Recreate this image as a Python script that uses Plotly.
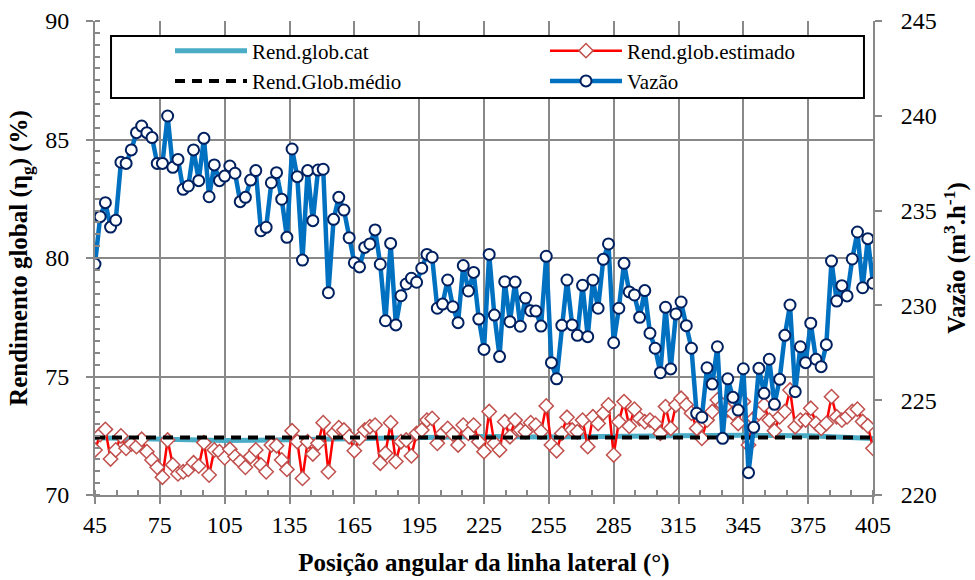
import plotly.graph_objects as go

# Angular positions of the lateral line (degrees), one reading every 2.4 degrees
angle_start = 45.0
angle_step = 2.4

# Flow rate readings (m3/h)
vazao = [
    232.18, 234.68, 235.42, 234.13, 234.49, 237.55, 237.49, 238.20, 239.11, 239.46,
    239.11, 238.85, 237.49, 237.49, 239.99, 237.28, 237.70, 236.12, 236.30, 238.20,
    236.58, 238.81, 235.73, 237.41, 236.58, 236.82, 237.35, 236.97, 235.47, 235.70,
    236.61, 237.11, 233.94, 234.12, 236.47, 237.00, 235.60, 233.59, 238.25, 236.79,
    232.39, 237.11, 234.47, 237.14, 237.18, 230.67, 234.54, 235.70, 235.03, 233.57,
    232.25, 232.03, 233.06, 233.24, 233.98, 232.17, 229.19, 233.27, 228.97, 230.51,
    231.13, 231.43, 231.22, 231.96, 232.69, 232.54, 229.85, 230.07, 231.34, 229.93,
    229.09, 232.10, 230.76, 231.74, 229.28, 227.68, 232.69, 229.49, 227.30, 231.25,
    229.14, 231.23, 228.90, 230.39, 229.72, 229.70, 228.91, 232.59, 226.98, 226.13,
    228.95, 231.34, 228.97, 228.42, 231.06, 228.35, 231.34, 229.85, 232.43, 233.24,
    228.03, 229.85, 232.22, 230.71, 230.55, 229.37, 230.78, 228.53, 227.74, 226.45,
    229.90, 226.65, 229.55, 230.18, 228.93, 227.74, 224.31, 224.10, 226.71, 225.85,
    227.82, 222.99, 226.13, 225.15, 224.48, 226.66, 221.18, 223.57, 226.68, 225.36,
    227.16, 224.78, 226.10, 228.42, 230.02, 225.45, 227.82, 226.98, 229.06, 227.16,
    226.77, 227.93, 232.34, 230.23, 231.04, 230.50, 232.45, 233.87, 230.93, 233.52,
    231.17,
]

# Estimated global efficiency (%)
rend_estimado = [
    71.90, 72.55, 72.77, 71.52, 71.90, 72.49, 71.97, 72.15, 72.04, 72.35,
    71.83, 71.48, 71.17, 70.75, 72.32, 71.27, 70.89, 70.98, 71.08, 71.36,
    71.22, 72.21, 70.84, 71.90, 71.83, 71.57, 71.93, 71.62, 71.41, 71.17,
    71.62, 71.90, 71.27, 70.98, 72.11, 72.08, 71.48, 71.08, 72.71, 72.25,
    70.70, 72.25, 71.73, 72.18, 73.05, 70.98, 72.60, 72.84, 72.74, 72.46,
    71.87, 72.39, 72.74, 72.88, 72.95, 71.34, 71.76, 73.05, 71.41, 72.25,
    72.32, 71.65, 72.60, 72.74, 73.16, 73.23, 72.18, 72.60, 72.81, 72.57,
    72.11, 72.95, 72.60, 72.95, 72.25, 71.83, 73.52, 72.18, 71.90, 73.09,
    72.46, 73.16, 72.74, 72.67, 73.05, 72.95, 72.67, 73.76, 72.11, 71.87,
    72.60, 73.28, 72.74, 72.67, 73.16, 72.04, 73.30, 73.02, 73.45, 73.80,
    71.69, 73.09, 73.94, 72.90, 73.62, 73.23, 73.09, 73.16, 73.02, 72.60,
    73.73, 72.81, 73.80, 74.08, 73.80, 73.45, 72.81, 72.39, 73.16, 73.52,
    74.01, 73.80, 73.59, 73.45, 73.02, 73.94, 72.11, 73.23, 73.45, 73.80,
    73.16, 72.71, 73.30, 73.52, 74.43, 72.88, 73.16, 73.16, 73.66, 73.02,
    72.81, 73.02, 74.15, 73.30, 73.16, 73.30, 73.52, 73.62, 73.10, 72.92,
    71.97,
]

# Catalogue global efficiency (%), sampled every 30 degrees
cat_angles = [45, 75, 105, 135, 165, 195, 225, 255, 285, 315, 345, 375, 405]
rend_cat = [72.42, 72.35, 72.30, 72.33, 72.38, 72.42, 72.47, 72.45, 72.45, 72.50, 72.52, 72.50, 72.38]

# Mean global efficiency (%)
medio_angles = [45, 405]
rend_medio = [72.43, 72.43]

angles = [round(angle_start + angle_step * i, 2) for i in range(len(vazao))]

SERIF = "Liberation Serif"
GRID = "#888888"

fig = go.Figure()

fig.add_trace(go.Scatter(
    x=cat_angles, y=rend_cat, name="Rend.glob.cat", mode="lines",
    line=dict(color="#4BACC6", width=5),
))
fig.add_trace(go.Scatter(
    x=angles, y=rend_estimado, name="Rend.glob.estimado", mode="lines+markers",
    line=dict(color="#FF0000", width=2.5),
    marker=dict(symbol="diamond", size=11, color="white",
                line=dict(color="#C0504D", width=1.5)),
))
fig.add_trace(go.Scatter(
    x=medio_angles, y=rend_medio, name="Rend.Glob.médio", mode="lines",
    line=dict(color="black", width=4, dash="10px,7px"),
))
fig.add_trace(go.Scatter(
    x=angles, y=vazao, name="Vazão", mode="lines+markers", yaxis="y2",
    line=dict(color="#0070C0", width=4.5),
    marker=dict(symbol="circle", size=11, color="white",
                line=dict(color="#002060", width=2)),
))

tickfont = dict(family=SERIF, size=24, color="black")
titlefont = dict(family=SERIF, size=25, color="black", weight="bold")

fig.update_layout(
    width=975, height=580,
    margin=dict(l=95, r=102, t=21, b=85),
    paper_bgcolor="white", plot_bgcolor="white",
    font=dict(family=SERIF, color="black"),
    xaxis=dict(
        range=[45, 405], tick0=45, dtick=30, automargin=False,
        showgrid=True, gridcolor=GRID, gridwidth=2,
        showline=True, linecolor=GRID, linewidth=2,
        ticks="outside", ticklen=7, tickwidth=2, tickcolor=GRID,
        minor=dict(tick0=45, dtick=10, ticks="inside", ticklen=5,
                   tickwidth=2, tickcolor=GRID, showgrid=False),
        zeroline=False, tickfont=tickfont,
        title=dict(text="Posição angular da linha lateral (°)", font=titlefont, standoff=17),
    ),
    yaxis=dict(
        range=[70, 90], tick0=70, dtick=5, automargin=False,
        showgrid=True, gridcolor=GRID, gridwidth=2,
        showline=True, linecolor=GRID, linewidth=2,
        ticks="outside", ticklen=7, tickwidth=2, tickcolor=GRID,
        minor=dict(tick0=70, dtick=0.5, ticks="inside", ticklen=5,
                   tickwidth=2, tickcolor=GRID, showgrid=False),
        zeroline=False, tickfont=tickfont, ticklabelstandoff=12,
        title=dict(text="Rendimento global (η<sub>g</sub>) (%)", font=titlefont, standoff=10),
    ),
    yaxis2=dict(
        range=[220, 245], tick0=220, dtick=5, overlaying="y", side="right",
        automargin=False,
        showgrid=False, showline=True, linecolor=GRID, linewidth=2,
        ticks="outside", ticklen=7, tickwidth=2, tickcolor=GRID,
        zeroline=False, tickfont=tickfont, ticklabelstandoff=14,
        title=dict(text="Vazão (m<sup>3</sup>.h<sup>-1</sup>)", font=titlefont, standoff=12),
    ),
    legend=dict(
        orientation="h", x=0.0964, y=0.980, xanchor="left", yanchor="top",
        bgcolor="rgba(0,0,0,0)", borderwidth=0,
        font=dict(family=SERIF, size=21, color="black"),
        itemwidth=72, entrywidth=288, tracegroupgap=0,
    ),
    shapes=[dict(
        type="rect", xref="paper", yref="paper",
        x0=0.0206, x1=0.9884, y0=0.8376, y1=0.9684,
        fillcolor="white", line=dict(color="black", width=2), layer="above",
    )],
)

fig.write_html("out.html")
